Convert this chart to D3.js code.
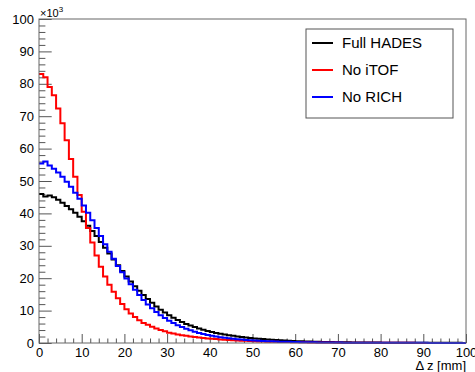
<!DOCTYPE html>
<html>
<head>
<meta charset="utf-8">
<script src="https://cdn.jsdelivr.net/npm/d3@7"></script>
<style>
	body { margin: 0; background: #fff; }
	text { font-family: 'Liberation Sans', Arial, sans-serif; fill: #000; }
	.axis path, .axis line { stroke: #555; }
	.axis .domain { display: none; }
</style>
</head>
<body>
<script>
// bin edges: 100 bins of 1 mm between 0 and 100
const binWidth = 1
const xTicks = [0, 10, 20, 30, 40, 50, 60, 70, 80, 90, 100]
const yTicks = [0, 10, 20, 30, 40, 50, 60, 70, 80, 90, 100]

// entries per bin, in units of 10^3
const fullHades = [
	46.0, 45.2, 45.5, 45.0, 44.2, 43.3, 42.3, 41.3, 40.2, 39.0,
	37.6, 36.2, 34.6, 33.0, 31.2, 29.4, 27.6, 25.8, 24.0, 22.2,
	20.5, 19.0, 17.5, 16.1, 14.8, 13.6, 12.4, 11.3, 10.3, 9.4,
	8.6, 7.8, 7.1, 6.5, 5.9, 5.4, 4.9, 4.5, 4.1, 3.7,
	3.4, 3.1, 2.85, 2.6, 2.4, 2.2, 2.0, 1.85, 1.7, 1.55,
	1.4, 1.3, 1.2, 1.1, 1.0, 0.9, 0.82, 0.75, 0.68, 0.62,
	0.56, 0.51, 0.47, 0.43, 0.39, 0.36, 0.33, 0.3, 0.28, 0.26,
	0.24, 0.22, 0.2, 0.19, 0.17, 0.16, 0.15, 0.14, 0.13, 0.12,
	0.11, 0.1, 0.1, 0.09, 0.09, 0.08, 0.08, 0.07, 0.07, 0.06,
	0.06, 0.06, 0.05, 0.05, 0.05, 0.04, 0.04, 0.04, 0.04, 0.03
]
const noITOF = [
	83.0, 82.0, 79.0, 76.5, 72.4, 67.8, 62.6, 56.8, 51.3, 45.7,
	40.5, 35.5, 31.0, 27.0, 23.5, 20.5, 18.0, 15.8, 13.8, 12.0,
	10.4, 9.1, 8.0, 7.0, 6.2, 5.6, 5.0, 4.5, 4.0, 3.6,
	3.2, 2.9, 2.6, 2.4, 2.2, 2.0, 1.85, 1.7, 1.55, 1.4,
	1.3, 1.2, 1.1, 1.0, 0.92, 0.85, 0.78, 0.72, 0.66, 0.6,
	0.55, 0.5, 0.46, 0.42, 0.39, 0.36, 0.33, 0.3, 0.28, 0.26,
	0.24, 0.22, 0.2, 0.18, 0.17, 0.16, 0.15, 0.14, 0.13, 0.12,
	0.11, 0.1, 0.09, 0.09, 0.08, 0.08, 0.07, 0.07, 0.06, 0.06,
	0.06, 0.05, 0.05, 0.05, 0.04, 0.04, 0.04, 0.04, 0.03, 0.03,
	0.03, 0.03, 0.03, 0.03, 0.02, 0.02, 0.02, 0.02, 0.02, 0.02
]
const noRICH = [
	55.4, 56.0, 54.8, 53.8, 52.6, 51.3, 49.8, 48.2, 46.4, 44.5,
	42.4, 40.2, 37.9, 35.5, 33.0, 30.5, 28.2, 26.0, 23.8, 21.8,
	19.9, 18.1, 16.4, 14.8, 13.3, 11.9, 10.7, 9.6, 8.6, 7.7,
	6.9, 6.2, 5.5, 4.9, 4.4, 3.9, 3.5, 3.1, 2.8, 2.5,
	2.2, 2.0, 1.8, 1.6, 1.45, 1.3, 1.17, 1.05, 0.95, 0.85,
	0.77, 0.7, 0.63, 0.57, 0.52, 0.47, 0.42, 0.38, 0.35, 0.32,
	0.29, 0.26, 0.24, 0.22, 0.2, 0.18, 0.16, 0.15, 0.14, 0.13,
	0.12, 0.11, 0.1, 0.09, 0.09, 0.08, 0.08, 0.07, 0.07, 0.06,
	0.06, 0.06, 0.05, 0.05, 0.05, 0.05, 0.04, 0.04, 0.04, 0.04,
	0.04, 0.03, 0.03, 0.03, 0.03, 0.03, 0.03, 0.03, 0.03, 0.03
]

const seriesNames = ['Full HADES', 'No iTOF', 'No RICH']
const seriesColors = ['#000000', '#ff0000', '#0000ff']
const seriesValues = [fullHades, noITOF, noRICH]

const margin = { top: 19, left: 39, right: 9, bottom: 29 }
const width = 475 - margin.left - margin.right
const height = 372 - margin.top - margin.bottom

const svg = d3.select('body').append('svg').attr('width', 475).attr('height', 372)
const g = svg.append('g').attr('transform', `translate(${margin.left},${margin.top})`)

const xscale = d3.scaleLinear().domain([0, 100]).range([0, width])
const yscale = d3.scaleLinear().domain([0, 100]).range([height, 0])

// minor ticks every 2 units, drawn inside the frame like ROOT does
const minorTicks = d3.range(0, 101, 2).filter(v => v % 10 !== 0)

g.append('g').attr('class', 'axis')
	.attr('transform', `translate(0,${height})`)
	.call(d3.axisBottom(xscale).tickValues(minorTicks).tickSize(-4.5).tickFormat(''))
g.append('g').attr('class', 'axis')
	.attr('transform', `translate(0,${height})`)
	.call(d3.axisBottom(xscale).tickValues(xTicks).tickSize(-9).tickFormat(d3.format('d')))
	.selectAll('text').attr('font-size', 13).attr('dy', 0).attr('y', 14)

g.append('g').attr('class', 'axis')
	.call(d3.axisLeft(yscale).tickValues(minorTicks).tickSize(-6.4).tickFormat(''))
g.append('g').attr('class', 'axis')
	.call(d3.axisLeft(yscale).tickValues(yTicks).tickSize(-12.7).tickFormat(d3.format('d')))
	.selectAll('text').attr('font-size', 13).attr('x', -5)

// histograms as step lines over the bin edges
const line = d3.line()
	.x(d => xscale(d[0]))
	.y(d => yscale(d[1]))
	.curve(d3.curveStepAfter)

seriesValues.forEach((vals, i) => {
	const pts = vals.map((v, k) => [k * binWidth, v])
	pts.push([vals.length * binWidth, vals[vals.length - 1]])
	g.append('path')
		.datum(pts)
		.attr('fill', 'none')
		.attr('stroke', seriesColors[i])
		.attr('stroke-width', 2)
		.attr('d', line)
})

// frame
g.append('rect')
	.attr('width', width).attr('height', height)
	.attr('fill', 'none').attr('stroke', '#666').attr('stroke-width', 1)

// exponent label
const expo = svg.append('text').attr('x', 40).attr('y', 17).attr('font-size', 11)
expo.append('tspan').text('×10')
expo.append('tspan').text('3').attr('font-size', 8).attr('dy', -5)

// axis title
svg.append('text')
	.attr('x', margin.left + width).attr('y', 370)
	.attr('text-anchor', 'end').attr('font-size', 13)
	.text('Δ z [mm]')

// legend
const legend = svg.append('g').attr('transform', 'translate(306,29)')
legend.append('rect')
	.attr('width', 147).attr('height', 89)
	.attr('fill', '#fff').attr('stroke', '#555')
seriesNames.forEach((name, i) => {
	const yy = 14 + i * 27
	legend.append('line')
		.attr('x1', 6).attr('x2', 27).attr('y1', yy).attr('y2', yy)
		.attr('stroke', seriesColors[i]).attr('stroke-width', 2)
	legend.append('text')
		.attr('x', 36).attr('y', yy).attr('dy', '0.36em')
		.attr('font-size', 15)
		.text(name)
})
</script>
</body>
</html>
